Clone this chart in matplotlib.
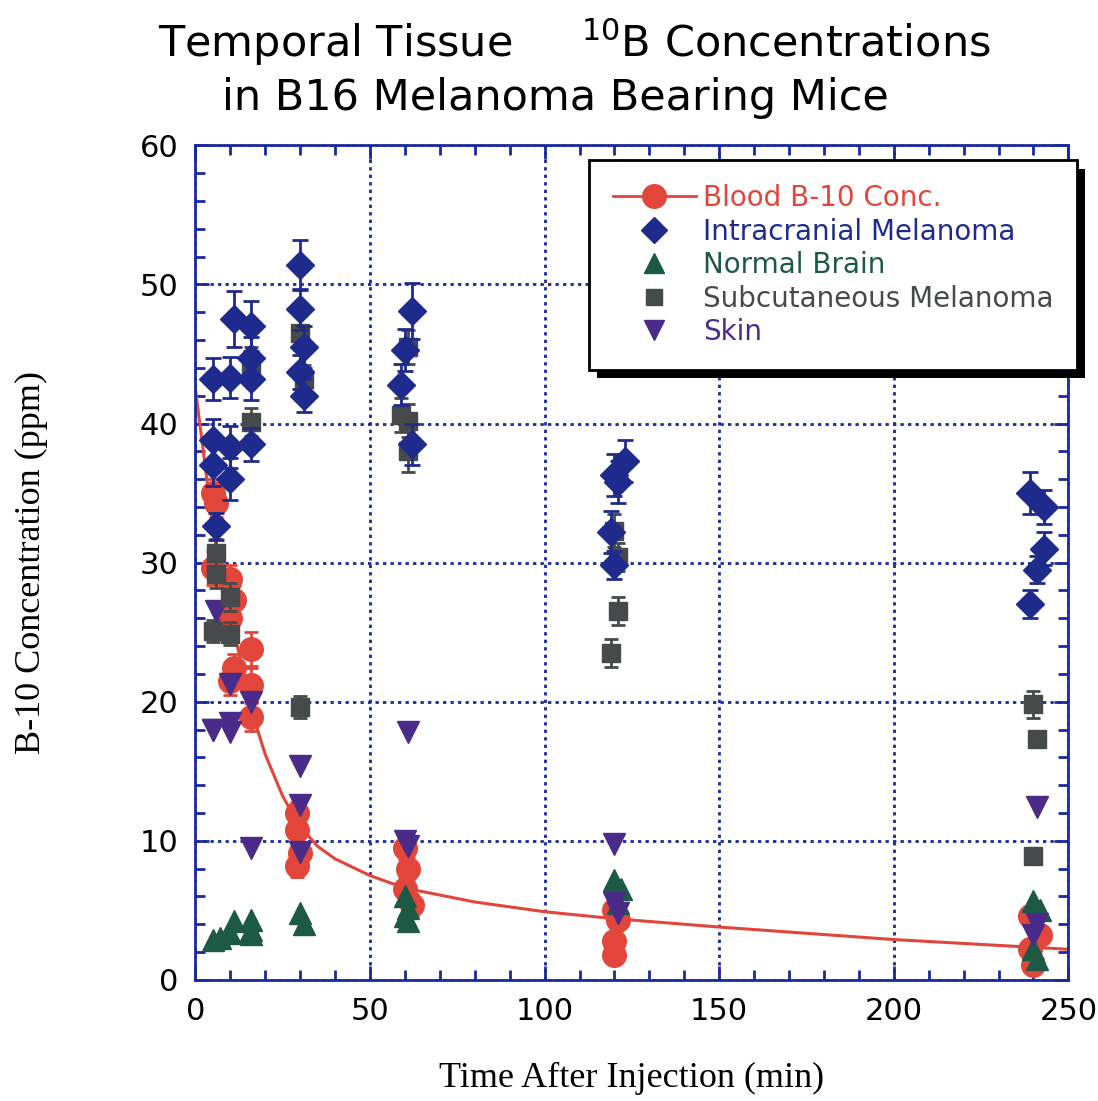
import matplotlib.pyplot as plt
import matplotlib.patheffects as pe
from matplotlib.ticker import MultipleLocator

# --- data ---

fit_t = [0, 2, 4, 6, 8, 10, 12, 14, 16, 18, 20, 25, 30, 35, 40, 50, 60, 80, 100, 120, 150, 200, 250]
fit_y = [42.5, 38.5, 34.5, 31.0, 28.3, 26.0, 24.0, 21.8, 19.8, 17.8, 16.2, 13.2, 11.0, 9.6, 8.7,
         7.5, 6.6, 5.6, 4.9, 4.4, 3.8, 2.9, 2.2]

blood_t = [5, 6, 5, 10, 11, 10, 11, 16, 16, 16, 10,
           29, 29, 30, 29, 60, 61, 60, 62, 120, 121, 120, 120, 239, 242, 239, 240]
blood_y = [35.0, 34.3, 29.6, 28.8, 27.3, 26.0, 22.4, 23.8, 21.2, 18.9, 21.5,
           12.0, 10.8, 9.1, 8.2, 9.5, 8.0, 6.5, 5.4, 5.0, 4.3, 2.8, 1.8, 4.6, 3.2, 2.2, 1.1]
blood_err = [1.0, 1.0, 1.2, 1.0, 1.0, 1.0, 1.0, 1.2, 1.2, 1.0, 1.0,
             0.8, 0.8, 0.8, 0.8, 0.8, 0.8, 0.8, 0.8, 0.6, 0.6, 0.6, 0.6, 0.5, 0.5, 0.5, 0.5]

ic_t = [5, 5, 5, 6, 10, 10, 10, 11, 16, 16, 16, 16,
        30, 30, 31, 30, 31, 59, 60, 62, 62, 119, 120, 123, 121, 120,
        239, 243, 243, 241, 239]
ic_y = [43.2, 38.8, 37.0, 32.6, 43.3, 38.3, 36.0, 47.5, 47.0, 44.7, 43.2, 38.5,
        51.4, 48.2, 45.5, 43.7, 42.0, 42.8, 45.3, 48.1, 38.5, 32.2, 36.3, 37.3, 35.8, 29.8,
        35.0, 34.0, 31.0, 29.5, 27.0]
ic_err = [1.5, 1.5, 1.5, 1.0, 1.5, 1.5, 1.5, 2.0, 1.8, 1.5, 1.5, 1.2,
          1.8, 1.5, 1.5, 1.2, 1.2, 1.5, 1.5, 2.0, 1.5, 1.5, 1.5, 1.5, 1.5, 1.0,
          1.5, 1.2, 1.2, 1.0, 1.0]

brain_t = [5, 7, 10, 11, 16, 16, 16, 30, 31, 60, 61, 60, 61, 120, 122, 121, 240, 242, 240, 241]
brain_y = [2.9, 3.0, 3.4, 4.2, 3.6, 4.3, 3.3, 4.8, 4.0, 6.0, 5.2, 4.6, 4.2, 7.2, 6.5, 5.5,
           5.7, 5.0, 2.2, 1.5]

subq_t = [6, 6, 10, 5, 10, 16, 16, 30, 31, 30, 59, 61, 61, 61,
          120, 121, 121, 119, 240, 241, 240]
subq_y = [30.7, 29.2, 27.5, 25.1, 24.9, 44.3, 40.1, 46.5, 43.2, 19.6, 40.6, 45.5, 40.2, 38.0,
          32.3, 30.4, 26.5, 23.5, 19.8, 17.3, 8.9]
subq_err = [1.0, 1.0, 1.0, 0.8, 0.8, 1.2, 1.0, 1.2, 1.0, 0.8, 1.2, 1.2, 1.2, 1.5,
            1.2, 1.0, 1.0, 1.0, 1.0, 0.5, 0.3]

skin_t = [6, 5, 10, 16, 5, 10, 10, 16, 30, 30, 30, 61, 60, 61, 120, 120, 121, 241, 241, 240]
skin_y = [26.5, 18.0, 18.5, 20.0, 18.0, 17.8, 21.3, 9.5, 15.4, 12.6, 9.2, 17.8, 10.0, 9.6,
          9.8, 5.5, 4.8, 12.4, 4.0, 3.2]

labels = ['Blood B-10 Conc.', 'Intracranial Melanoma', 'Normal Brain',
          'Subcutaneous Melanoma', 'Skin']

# --- colours ---
c_blood = '#e2463a'
c_ic = '#1f2b8c'
c_brain = '#1c5a45'
c_subq = '#474a4a'
c_skin = '#4a2b8a'
c_axis = '#1a2a9c'

fig = plt.figure(figsize=(10.98, 11.01), dpi=100)
ax = fig.add_axes([0.178, 0.110, 0.795, 0.758])

ax.plot(fit_t, fit_y, color=c_blood, lw=2.2, zorder=2)
ax.errorbar(blood_t, blood_y, yerr=blood_err, fmt='o', color=c_blood, ms=17,
            capsize=5, elinewidth=2, capthick=2, zorder=3)
ax.errorbar(subq_t, subq_y, yerr=subq_err, fmt='s', color=c_subq, ms=13,
            capsize=5, elinewidth=2, capthick=2, zorder=4)
ax.errorbar(ic_t, ic_y, yerr=ic_err, fmt='D', color=c_ic, ms=14,
            capsize=6, elinewidth=2, capthick=2, zorder=5)
ax.plot(brain_t, brain_y, '^', color=c_brain, ms=16, ls='none', zorder=4)
ax.plot(skin_t, skin_y, 'v', color=c_skin, ms=16, ls='none', zorder=4)

ax.set_xlim(0, 250)
ax.set_ylim(0, 60)
ax.xaxis.set_major_locator(MultipleLocator(50))
ax.xaxis.set_minor_locator(MultipleLocator(10))
ax.yaxis.set_major_locator(MultipleLocator(10))
ax.yaxis.set_minor_locator(MultipleLocator(2))
ax.tick_params(which='both', direction='in', top=True, right=True, color=c_axis, width=2)
ax.tick_params(which='major', length=10, labelsize=22, pad=12)
ax.tick_params(which='minor', length=7)
for s in ax.spines.values():
    s.set_color(c_axis)
    s.set_linewidth(2)
ax.grid(True, which='major', color=c_axis, ls=(0, (1.2, 1.5)), lw=2)
ax.set_axisbelow(True)

ax.set_xlabel('Time After Injection (min)', family='Liberation Serif', fontsize=26, labelpad=26)
ax.set_ylabel('B-10 Concentration (ppm)', family='Liberation Serif', fontsize=26, labelpad=66)

fig.text(0.523, 0.962, 'Temporal Tissue     $^{10}$B Concentrations',
         ha='center', va='center', fontsize=31)
fig.text(0.506, 0.911, 'in B16 Melanoma Bearing Mice',
         ha='center', va='center', fontsize=31)

# legend proxies
handles = [
    plt.Line2D([], [], color=c_blood, marker='o', ms=17, lw=2),
    plt.Line2D([], [], color=c_ic, marker='D', ms=13, ls='none'),
    plt.Line2D([], [], color=c_brain, marker='^', ms=15, ls='none'),
    plt.Line2D([], [], color=c_subq, marker='s', ms=12, ls='none'),
    plt.Line2D([], [], color=c_skin, marker='v', ms=15, ls='none'),
]
leg = ax.legend(handles, labels, loc='upper right', bbox_to_anchor=(1.010, 0.982),
                borderaxespad=0, fontsize=20, frameon=True, fancybox=False, framealpha=1,
                handlelength=3.0, handletextpad=0.25, labelspacing=0.2, borderpad=0.85)
frame = leg.get_frame()
frame.set_edgecolor('black')
frame.set_linewidth(2)
frame.set_path_effects([pe.SimplePatchShadow(offset=(6, -6), shadow_rgbFace='black', alpha=1),
                        pe.Normal()])
for txt, col in zip(leg.get_texts(), [c_blood, c_ic, c_brain, c_subq, c_skin]):
    txt.set_color(col)

fig.savefig('out.png', dpi=100)
